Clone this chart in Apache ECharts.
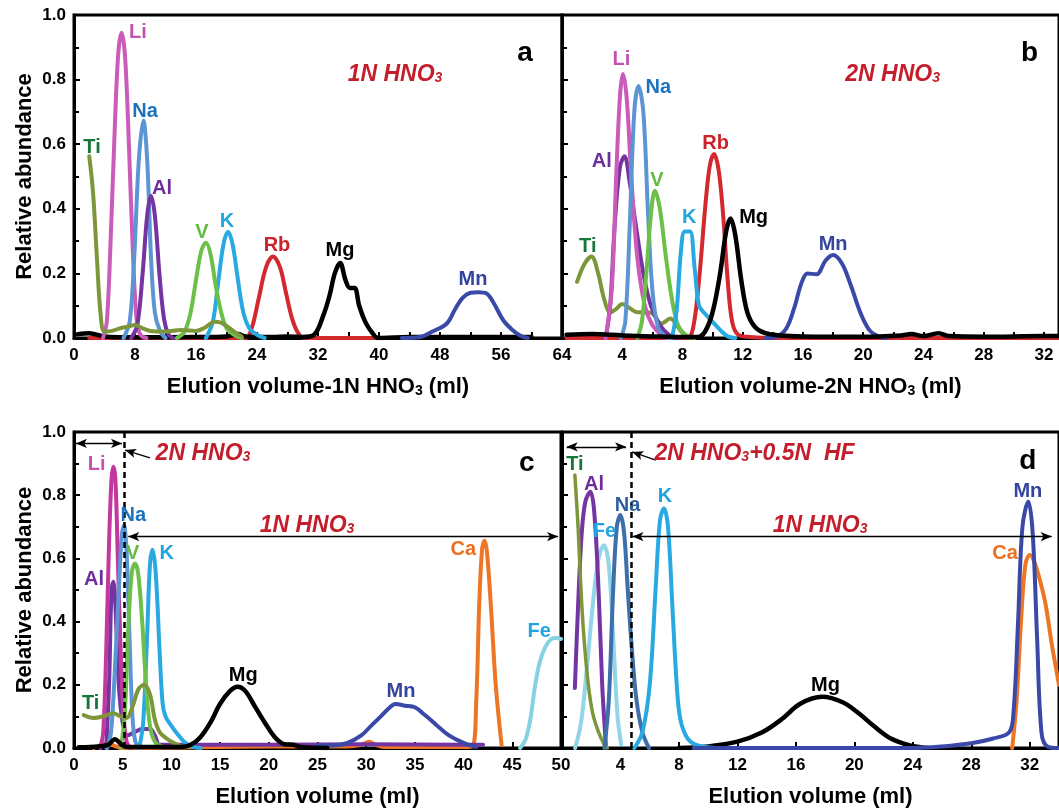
<!DOCTYPE html>
<html><head><meta charset="utf-8">
<script src="https://cdn.jsdelivr.net/npm/echarts@6/dist/echarts.min.js"></script>
<style>html,body{margin:0;padding:0;background:#fff}#c{width:1059px;height:812px}</style>
</head><body><div id="c"></div>
<script>
// ---------------- DATA (elution volume ml, relative abundance) ----------------
// Panel a : 1N HNO3
const aTi = [[2.0,0.563],[2.5,0.45],[3.0,0.25],[3.5,0.07],[4.0,0.02],[5,0.022],[6,0.03],[7,0.035],[8,0.04],[9,0.03],[10,0.022],[12,0.02],[14,0.025],[16,0.022],[17,0.03],[18.5,0.05],[19.5,0.045],[21,0.02],[22,0.005]];
const aLi = [[3.8,0],[4.3,0.05],[4.8,0.3],[5.3,0.62],[5.8,0.88],[6.25,0.945],[6.7,0.87],[7.2,0.6],[7.7,0.28],[8.2,0.06],[8.7,0.01],[9.5,0]];
const aNa = [[6.5,0],[7.3,0.05],[7.9,0.25],[8.5,0.55],[9.1,0.673],[9.6,0.55],[10.1,0.25],[10.6,0.08],[11.3,0.02],[12,0]];
const aAl = [[7.5,0],[8.3,0.04],[9,0.2],[9.6,0.38],[10.1,0.44],[10.6,0.38],[11.2,0.2],[11.8,0.06],[12.4,0.01],[13,0]];
const aV  = [[13.5,0],[14.5,0.02],[15.3,0.08],[16,0.18],[16.7,0.27],[17.3,0.295],[17.9,0.26],[18.6,0.16],[19.3,0.08],[20,0.03],[21,0.01],[22,0]];
const aK  = [[17.3,0],[18.2,0.05],[18.9,0.17],[19.6,0.29],[20.2,0.329],[20.8,0.29],[21.5,0.18],[22.2,0.08],[23,0.03],[24,0.01],[25,0]];
const aRb = [[2,0],[22.5,0],[23.3,0.03],[24.2,0.12],[25.2,0.22],[26.1,0.252],[27,0.22],[27.8,0.14],[28.6,0.06],[29.4,0.015],[30.2,0],[39.5,0]];
const aMg = [[0.5,0.012],[2,0.015],[4,0.005],[8,0.002],[16,0.003],[20,0.005],[21.5,0.012],[22.5,0.005],[26,0.003],[28,0.005],[30,0.003],[31.5,0.01],[32.7,0.07],[33.5,0.13],[34.2,0.2],[34.9,0.232],[35.6,0.18],[36.2,0.155],[36.8,0.155],[37.4,0.1],[38.2,0.05],[39,0.02],[39.9,0],[44,0.003],[60,0.003]];
const aMn = [[43,0],[45.4,0.003],[47,0.02],[48.9,0.045],[50,0.09],[51,0.125],[52,0.14],[53,0.142],[54.1,0.138],[55,0.11],[56.3,0.055],[57.5,0.025],[58.5,0.008],[59.5,0]];

// Panel b : 2N HNO3
const bTi = [[1,0.174],[1.5,0.23],[1.96,0.252],[2.4,0.2],[2.8,0.12],[3.2,0.08],[3.6,0.09],[4.0,0.105],[4.5,0.092],[5.0,0.08],[5.6,0.08],[6.0,0.076],[6.6,0.045],[7.2,0.06],[7.6,0.04],[8,0.015],[8.5,0]];
const bAl = [[2.9,0],[3.2,0.1],[3.5,0.35],[3.85,0.53],[4.15,0.563],[4.5,0.48],[4.9,0.35],[5.4,0.2],[5.9,0.1],[6.5,0.04],[7.1,0.01],[7.6,0]];
const bLi = [[2.9,0],[3.3,0.15],[3.6,0.5],[3.85,0.75],[4.05,0.817],[4.3,0.74],[4.6,0.5],[5,0.25],[5.5,0.1],[6,0.04],[6.6,0.01],[7.2,0]];
const bNa = [[3.9,0],[4.2,0.05],[4.5,0.35],[4.8,0.7],[5.08,0.78],[5.4,0.7],[5.7,0.4],[6,0.15],[6.4,0.03],[7,0]];
const bV  = [[5,0],[5.3,0.05],[5.6,0.2],[5.9,0.38],[6.17,0.456],[6.5,0.4],[6.9,0.25],[7.3,0.12],[7.7,0.04],[8.2,0.01],[8.8,0]];
const bK  = [[7.3,0],[7.6,0.08],[7.9,0.27],[8.15,0.33],[8.5,0.33],[8.8,0.22],[9.1,0.1],[9.5,0.075],[10,0.05],[10.5,0.025],[11,0.005],[11.5,0]];
const bRb = [[0.3,0],[8.3,0],[8.7,0.03],[9.1,0.18],[9.5,0.4],[9.8,0.53],[10.09,0.57],[10.4,0.52],[10.7,0.38],[11,0.18],[11.3,0.05],[11.7,0.01],[12.5,0.003],[14,0],[33,0]];
const bMg = [[0.3,0.01],[2,0.012],[4,0.008],[6,0.005],[8,0.003],[9,0.003],[9.5,0.02],[10,0.08],[10.5,0.2],[10.9,0.33],[11.19,0.37],[11.5,0.32],[11.9,0.18],[12.3,0.08],[12.8,0.035],[13.5,0.015],[14.5,0.008],[16,0.005],[20,0.004],[22.5,0.008],[23.2,0.012],[24,0.006],[25,0.015],[25.7,0.006],[28,0.004],[32,0.006],[33,0.006]];
const bMn = [[13.5,0],[14.3,0.005],[14.9,0.03],[15.4,0.09],[15.9,0.17],[16.3,0.2],[16.9,0.197],[17.5,0.24],[18,0.257],[18.6,0.23],[19.2,0.16],[19.8,0.08],[20.4,0.025],[21,0.005],[21.5,0]];

// Panel c : 2N HNO3 then 1N HNO3
const cCa = [[2,0],[2.8,0.01],[3.5,0.015],[4.3,0.005],[5,0],[20,0.005],[28,0.005],[29.5,0.01],[30.3,0.02],[31,0.01],[32,0.003],[40,0.003],[40.9,0.005],[41.3,0.15],[41.6,0.45],[41.9,0.63],[42.15,0.656],[42.4,0.62],[42.8,0.45],[43.3,0.2],[43.9,0.01]];
const cAl = [[3.3,0],[3.6,0.2],[3.85,0.5],[4.04,0.526],[4.25,0.45],[4.6,0.2],[5,0.08],[5.5,0.04],[6.2,0.05],[7,0.06],[7.8,0.06],[8.3,0.04],[8.8,0.01],[10,0.01],[20,0.01],[30,0.012],[40,0.01],[42,0.01]];
const cLi = [[2.7,0],[3.0,0.05],[3.3,0.3],[3.6,0.65],[3.85,0.85],[4.04,0.89],[4.25,0.85],[4.5,0.6],[4.8,0.3],[5.1,0.1],[5.4,0.02],[5.8,0]];
const cNa = [[3.4,0],[3.8,0.05],[4.2,0.25],[4.6,0.5],[4.9,0.67],[5.13,0.705],[5.4,0.62],[5.7,0.35],[6,0.1],[6.3,0.02],[6.7,0]];
const cV  = [[4.8,0],[5.2,0.1],[5.6,0.4],[5.95,0.56],[6.26,0.584],[6.6,0.55],[7,0.4],[7.4,0.2],[7.8,0.07],[8.3,0.02],[9,0.005]];
const cK  = [[6.7,0],[7.1,0.08],[7.5,0.35],[7.8,0.58],[8.08,0.627],[8.4,0.55],[8.8,0.3],[9.1,0.14],[9.4,0.1],[10,0.07],[10.6,0.045],[11.3,0.02],[12,0.005],[13,0]];
const cTi = [[1,0.104],[2,0.095],[3,0.1],[4,0.11],[4.8,0.1],[5.4,0.095],[6,0.13],[6.6,0.185],[7.2,0.2],[7.8,0.17],[8.3,0.09],[8.8,0.05],[9.5,0.03],[10.3,0.015],[11,0.005]];
const cMg = [[0.5,0.002],[2.5,0.005],[3.5,0.01],[4.2,0.028],[4.9,0.01],[5.5,0.003],[8,0.003],[11,0.003],[12,0.01],[13,0.035],[14,0.08],[15,0.14],[16,0.18],[16.8,0.194],[17.6,0.18],[18.6,0.13],[19.6,0.08],[20.6,0.035],[21.6,0.012],[22.5,0.01],[23.5,0.002],[26,0]];
const cMn = [[25,0.008],[26.5,0.008],[28,0.015],[29.5,0.04],[30.5,0.07],[31.5,0.1],[32.3,0.125],[33,0.139],[34,0.134],[35,0.129],[36,0.105],[37.2,0.073],[38.5,0.04],[40,0.016],[41.3,0.003]];
const cFe = [[45.8,0],[46.4,0.03],[46.9,0.1],[47.3,0.19],[47.8,0.27],[48.4,0.32],[49,0.345],[49.5,0.348],[50,0.345]];

// Panel d : 2N HNO3+0.5N HF then 1N HNO3
const dTi = [[0.88,0.864],[1.1,0.7],[1.3,0.5],[1.5,0.35],[1.8,0.2],[2.1,0.11],[2.5,0.05],[2.9,0.01],[3.1,0]];
const dAl = [[0.88,0.19],[1.1,0.45],[1.35,0.68],[1.6,0.78],[1.94,0.811],[2.2,0.75],[2.5,0.5],[2.75,0.2],[3.0,0.01]];
const dFe = [[0.9,0],[1.3,0.08],[1.7,0.25],[2.1,0.45],[2.5,0.6],[2.86,0.642],[3.2,0.58],[3.5,0.35],[3.8,0.1],[4.05,0.01]];
const dNa = [[2.9,0],[3.2,0.15],[3.5,0.5],[3.75,0.7],[3.99,0.737],[4.25,0.68],[4.5,0.5],[4.8,0.3],[5.1,0.15],[5.5,0.05],[5.95,0]];
const dK  = [[4.95,0],[5.5,0.05],[6,0.2],[6.4,0.5],[6.7,0.72],[6.97,0.758],[7.25,0.7],[7.55,0.45],[7.85,0.2],[8.1,0.09],[8.6,0.03],[9.3,0.008],[10.5,0]];
const dMg = [[8,0],[10,0.005],[12,0.02],[13.7,0.05],[15,0.09],[16.3,0.14],[17.8,0.162],[19.2,0.145],[20.3,0.11],[21.4,0.067],[22.5,0.03],[23.8,0.008],[25,0]];
const dCa = [[30.8,0],[31.1,0.15],[31.4,0.4],[31.7,0.58],[32,0.611],[32.3,0.59],[32.7,0.53],[33.1,0.45],[33.5,0.33],[34,0.2]];
const dMn = [[9,0],[24,0],[26,0.005],[28,0.015],[29.5,0.03],[30.6,0.05],[30.9,0.12],[31.2,0.4],[31.5,0.7],[31.9,0.78],[32.2,0.68],[32.5,0.35],[32.8,0.05],[33.2,0.005],[34,0]];

// axis ranges / ticks
const xMaxA = 64, xStepA = 8;
const xMaxB = 33, xStepB = 4;
const xMaxC = 50, xStepC = 5;
const xMaxD = 34, xStepD = 4;
const yMax = 1, yStep = 0.2;

// ---------------- STYLE ----------------
const FONT = "'Liberation Sans', Arial, Helvetica, sans-serif";
const COL = {
  Li:'#CB5BB8', Li2:'#C2389C', Na:'#5C95D4', Na2:'#3D6FA9', Al:'#7434A2', Ti:'#7D963A', V:'#6CC04A',
  K:'#29A9E1', Rb:'#D2282E', Mg:'#000000', Mn:'#3A49A8', Ca:'#EE7524', Fe:'#86D1E2', Fe2:'#92D4E8'
};
const LCOL = { Li:'#C352B0', Na:'#1B72BE', Na2:'#2B5F9E', Al:'#6E2E9E', Ti:'#17763A', V:'#62BB42', K:'#21A5DF',
  Rb:'#CC2229', Mg:'#000', Mn:'#34449F', Ca:'#EC6F1E', Fe:'#21A5DF', red:'#C41E2C' };

const grids = [
  {left:74, top:15, width:488, height:323},
  {left:562, top:15, width:501, height:323},
  {left:74, top:432, width:487, height:316},
  {left:562, top:432, width:503, height:316}
].map(g => Object.assign(g, {show:true, borderWidth:3, borderColor:'#000', containLabel:false}));

const subRich = {
  m:{fontSize:22, fontWeight:'bold', fontFamily:FONT, color:'#000', lineHeight:22, verticalAlign:'top'},
  s:{fontSize:14, fontWeight:'bold', fontFamily:FONT, color:'#000', lineHeight:14, padding:[11,0,0,0], verticalAlign:'bottom'}
};
const tick = {show:true, inside:true, length:6, lineStyle:{color:'#000', width:2}};
function xAxis(gi, max, step, name, opt) {
  return Object.assign({
    type:'value', gridIndex:gi, min:0, max:max, interval:step,
    axisLine:{show:true, lineStyle:{color:'#000', width:3}},
    axisTick:tick,
    minorTick:{show: gi < 2, splitNumber:2, length:6, lineStyle:{color:'#000', width:2}},
    splitLine:{show:false},
    axisLabel:{color:'#000', fontSize:17, fontWeight:'bold', fontFamily:FONT, margin:9},
    name:name, nameLocation:'middle', nameGap:38,
    nameTextStyle:{fontSize:22, fontWeight:'bold', fontFamily:FONT, color:'#000', rich:subRich}
  }, opt || {});
}
function yAxis(gi, showLabel) {
  return {
    type:'value', gridIndex:gi, min:0, max:yMax, interval:yStep,
    axisLine:{show:true, lineStyle:{color:'#000', width:3}},
    axisTick:tick,
    minorTick:{show:true, splitNumber:2, length:5, lineStyle:{color:'#000', width:2}},
    splitLine:{show:false},
    axisLabel:{show:showLabel, color:'#000', fontSize:17, fontWeight:'bold', fontFamily:FONT, margin:8,
      formatter: v => v.toFixed(1)},
    name: showLabel ? 'Relative abundance' : '', nameLocation:'middle', nameGap:38, nameRotate:90,
    nameTextStyle:{fontSize:22, fontWeight:'bold', fontFamily:FONT, color:'#000'}
  };
}

const series = [];
function line(gi, data, color, width) {
  series.push({type:'line', xAxisIndex:gi, yAxisIndex:gi, data:data, smooth:0.35, symbol:'none',
    lineStyle:{color:color, width:width || 4, join:'round', cap:'round'}, itemStyle:{color:color},
    silent:true, z:2});
}
// labels in data coordinates, plus arrows
function notes(gi, list, lines) {
  series.push({
    type:'scatter', xAxisIndex:gi, yAxisIndex:gi, symbolSize:0, silent:true, z:5,
    itemStyle:{opacity:1},
    data: list.map(l => ({value:[l[1], l[2]], name:l[0],
      label:{show:true, position:'inside', formatter:'{b}', color:l[3], opacity:1, fontSize:l[4] || 20,
        fontWeight:'bold', fontStyle:l[5] ? 'italic' : 'normal', fontFamily:FONT,
        rich:{
          m:{fontSize:l[4] || 20, fontWeight:'bold', fontStyle:'italic', fontFamily:FONT, color:l[3], lineHeight:22, verticalAlign:'top'},
          s:{fontSize:14, fontWeight:'bold', fontStyle:'italic', fontFamily:FONT, color:l[3], lineHeight:14, padding:[12,0,0,0], verticalAlign:'bottom'}
        }}})),
    markLine: lines ? {silent:true, animation:false, label:{show:false}, data:lines} : undefined
  });
}
function arrow(x1, y1, x2, y2, both) {
  return [{coord:[x1,y1], symbol: both ? 'arrow' : 'none', symbolSize:[7,11], lineStyle:{color:'#000', width:1.3, type:'solid', opacity:1}},
          {coord:[x2,y2], symbol:'arrow', symbolSize:[7,11]}];
}
function dashed(x) {
  return [{coord:[x,0], symbol:'none', lineStyle:{color:'#000', width:2.5, type:[6,4], opacity:1}}, {coord:[x,1], symbol:'none'}];
}

// panel a
line(0,aRb,COL.Rb); line(0,aMg,COL.Mg,4.5); line(0,aMn,COL.Mn); line(0,aK,COL.K); line(0,aV,COL.V);
line(0,aLi,COL.Li); line(0,aNa,COL.Na); line(0,aAl,COL.Al); line(0,aTi,COL.Ti);
notes(0, [['Li',8.39,0.947,LCOL.Li],['Na',9.31,0.70,LCOL.Na],['Ti',2.36,0.591,LCOL.Ti],['Al',11.54,0.464,LCOL.Al],
  ['V',16.79,0.328,LCOL.V],['K',20.07,0.362,LCOL.K],['Rb',26.62,0.285,LCOL.Rb],['Mg',34.89,0.272,LCOL.Mg],
  ['Mn',52.33,0.18,LCOL.Mn],['a',59.15,0.882,'#000',28],['{m|1N HNO}{s|3}',42.1,0.817,LCOL.red,23,true]]);

// panel b
line(1,bRb,COL.Rb); line(1,bMn,COL.Mn); line(1,bTi,COL.Ti); line(1,bAl,COL.Al); line(1,bLi,COL.Li);
line(1,bNa,COL.Na); line(1,bV,COL.V); line(1,bK,COL.K); line(1,bMg,COL.Mg,4.5);
notes(1, [['Li',3.94,0.861,LCOL.Li],['Na',6.39,0.777,LCOL.Na],['Al',2.64,0.548,LCOL.Al],['V',6.31,0.489,LCOL.V],
  ['Rb',10.2,0.601,LCOL.Rb],['K',8.44,0.372,LCOL.K],['Mg',12.72,0.372,LCOL.Mg],['Ti',1.71,0.282,LCOL.Ti],
  ['Mn',18.0,0.291,LCOL.Mn],['b',31.05,0.882,'#000',28],['{m|2N HNO}{s|3}',21.95,0.817,LCOL.red,23,true]]);

// panel c
line(2,cCa,COL.Ca); line(2,cAl,COL.Al); line(2,cMn,COL.Mn); line(2,cFe,COL.Fe); line(2,cLi,COL.Li2);
line(2,cNa,COL.Na); line(2,cK,COL.K); line(2,cV,COL.V); line(2,cTi,COL.Ti); line(2,cMg,COL.Mg,4.5);
notes(2, [['Li',2.33,0.896,LCOL.Li],['Na',6.09,0.737,LCOL.Na],['Al',2.05,0.532,LCOL.Al],['V',6.03,0.617,LCOL.V],
  ['K',9.52,0.617,LCOL.K],['Ti',1.71,0.142,LCOL.Ti],['Mg',17.38,0.231,LCOL.Mg],['Mn',33.57,0.178,LCOL.Mn],
  ['Ca',39.97,0.629,LCOL.Ca],['Fe',47.77,0.368,LCOL.Fe],['c',46.48,0.901,'#000',28],
  ['{m|2N HNO}{s|3}',13.24,0.934,LCOL.red,23,true],['{m|1N HNO}{s|3}',23.92,0.706,LCOL.red,23,true]],
  [dashed(5.13), arrow(0.2,0.964,4.93,0.964,true), arrow(7.8,0.918,5.24,0.943,false), arrow(5.57,0.669,49.7,0.669,true)]);

// panel d
line(3,dMg,COL.Mg,4.5); line(3,dFe,COL.Fe2); line(3,dAl,COL.Al); line(3,dTi,COL.Ti,3.5); line(3,dNa,COL.Na2);
line(3,dK,COL.K); line(3,dCa,COL.Ca); line(3,dMn,COL.Mn);
notes(3, [['Ti',0.88,0.896,LCOL.Ti],['Al',2.19,0.834,LCOL.Al],['Na',4.49,0.769,LCOL.Na2],['Fe',2.91,0.684,LCOL.Fe],
  ['K',7.04,0.797,LCOL.K],['Mg',18.02,0.199,LCOL.Mg],['Mn',31.87,0.811,LCOL.Mn],['Ca',30.31,0.616,LCOL.Ca],
  ['d',31.87,0.906,'#000',28],
  ['{m|2N HNO}{s|3}{m|+0.5N  HF}',13.17,0.933,LCOL.red,23,true],['{m|1N HNO}{s|3}',17.66,0.706,LCOL.red,23,true]],
  [dashed(4.72), arrow(0.32,0.953,4.38,0.953,true), arrow(6.41,0.911,4.8,0.937,false), arrow(4.82,0.669,33.5,0.669,true)]);

const chart = echarts.init(document.getElementById('c'), null, {renderer:'canvas'});
chart.setOption({
  animation:false, backgroundColor:'#fff',
  grid: grids,
  xAxis: [
    xAxis(0, xMaxA, xStepA, '{m|Elution volume-1N HNO}{s|3}{m| (ml)}'),
    xAxis(1, xMaxB, xStepB, '{m|Elution volume-2N HNO}{s|3}{m| (ml)}', {axisLabel:{color:'#000', fontSize:17, fontWeight:'bold', fontFamily:FONT, margin:9, showMinLabel:false, showMaxLabel:false}}),
    xAxis(2, xMaxC, xStepC, 'Elution volume (ml)'),
    xAxis(3, xMaxD, xStepD, 'Elution volume (ml)', {axisLabel:{color:'#000', fontSize:17, fontWeight:'bold', fontFamily:FONT, margin:9, showMinLabel:false, showMaxLabel:false}})
  ],
  yAxis: [yAxis(0,true), yAxis(1,false), yAxis(2,true), yAxis(3,false)],
  series: series
});
</script></body></html>
